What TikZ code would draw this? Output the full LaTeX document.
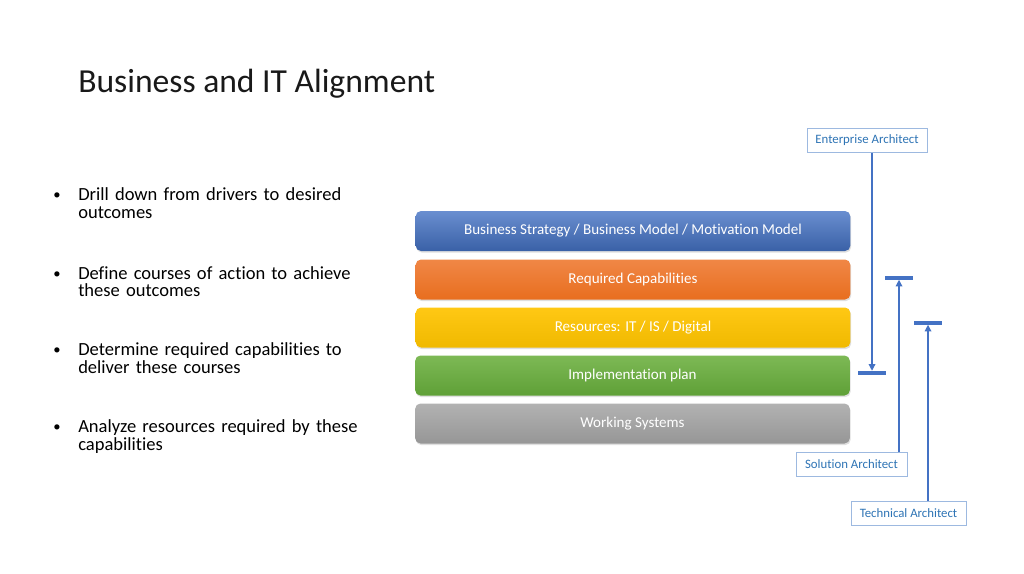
\documentclass[tikz,border=0pt]{standalone}
\usepackage{fontspec}
\setmainfont{Carlito}[Ligatures={NoCommon}]
\usepackage{tikz}
\usetikzlibrary{arrows.meta, shadows}

\definecolor{archblue}{HTML}{4472C4}
\definecolor{archtext}{HTML}{2E74B5}
\definecolor{archedge}{HTML}{9DB9E0}

\tikzset{
    layer/.style={rounded corners=4pt, minimum width=326pt, minimum height=30pt,
        text=white, font=\fontsize{11.3}{13}\selectfont,
        drop shadow={opacity=0.25, shadow xshift=0.6pt, shadow yshift=-1.2pt}},
    archbox/.style={draw=archedge, fill=white, text=archtext, minimum height=18pt,
        inner xsep=2pt, font=\fontsize{9.6}{11}\selectfont},
    archbar/.style={fill=archblue, minimum width=21pt, minimum height=3pt, inner sep=0pt},
    archline/.style={archblue, line width=0.9pt, -{Triangle[length=5pt, width=5pt]}},
    bullettext/.style={anchor=base west, text width=225pt, align=left,
        font=\fontsize{13.9}{13.3}\selectfont},
}

\begin{document}
\begin{tikzpicture}[x=0.75pt, y=-0.75pt]
    \useasboundingbox (0,0) rectangle (1024,574);

    \node[anchor=base west, inner sep=0pt, text=black!90, font=\fontsize{25.2}{30}\selectfont]
        (title) at (78,92.7) {Business and IT Alignment};

    % bullets
    \foreach \y/\txt [count=\k] in {
        200.7/{Drill down from drivers to desired outcomes},
        279/{Define courses of action to achieve these outcomes},
        355.7/{Determine required capabilities to deliver these courses},
        432.7/{Analyze resources required by these capabilities}}{
        \node[anchor=base, inner sep=0pt, font=\fontsize{11}{13}\selectfont]
            (dot\k) at (57,\y-1) {•};
        \node[bullettext, inner sep=0pt] (item\k) at (78,\y) {\txt};
    }

    % layers
    \node[layer, top color=archblue!80!white, bottom color=archblue!85!black]
        (strategy) at (633,231) {Business Strategy / Business Model / Motivation Model};
    \node[layer, top color={rgb,255:red,240;green,135;blue,70}, bottom color={rgb,255:red,232;green,110;blue,30}]
        (capab) at (633,279.5) {Required Capabilities};
    \node[layer, top color={rgb,255:red,255;green,200;blue,20}, bottom color={rgb,255:red,240;green,185;blue,0}]
        (resources) at (633,327.5) {Resources: IT / IS / Digital};
    \node[layer, top color={rgb,255:red,125;green,185;blue,85}, bottom color={rgb,255:red,95;green,160;blue,55}]
        (plan) at (632.5,375.5) {Implementation plan};
    \node[layer, top color={rgb,255:red,178;green,178;blue,178}, bottom color={rgb,255:red,150;green,150;blue,150}]
        (systems) at (632.5,423.5) {Working Systems};

    % architects
    \node[archbox, minimum width=90pt] (enterprise) at (867,140.5) {Enterprise Architect};
    \node[archbox, minimum width=83pt] (solution) at (851.5,464.5) {Solution Architect};
    \node[archbox, minimum width=86pt] (technical) at (908.5,513) {Technical Architect};

    \node[archbar] (ebar) at (872,373) {};
    \node[archbar] (sbar) at (899,277.5) {};
    \node[archbar] (tbar) at (928,322.5) {};

    \draw[archline] (enterprise.south -| ebar) -- (ebar.north);
    \draw[archline] (solution.north -| sbar) -- (sbar.south);
    \draw[archline] (technical.north -| tbar) -- (tbar.south);
\end{tikzpicture}
\end{document}
